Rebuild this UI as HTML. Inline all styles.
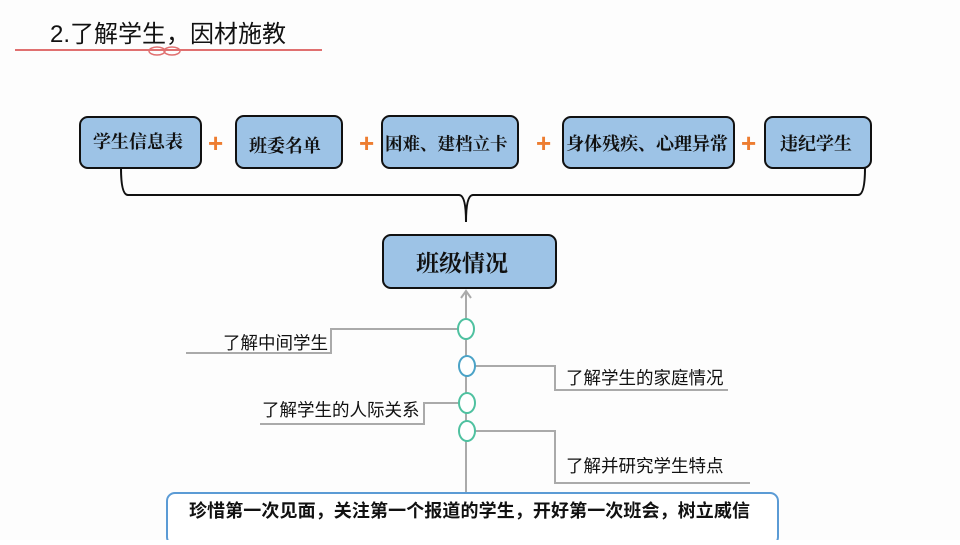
<!DOCTYPE html>
<html><head><meta charset="utf-8"><style>
body{margin:0;width:960px;height:540px;overflow:hidden;background:#fff;}
svg text{font-family:"Liberation Serif","Noto Serif CJK SC","Noto Sans CJK SC",serif;}
svg text.a{font-family:"Liberation Sans","Noto Sans CJK SC",sans-serif;}
</style></head><body>
<svg width="960" height="540" viewBox="0 0 960 540">
<rect width="960" height="540" fill="#fdfdfd"/>
<text class="a" x="50" y="42" font-size="24" fill="#111">2.了解学生，因材施教</text>
<line x1="15" y1="50" x2="322" y2="50" stroke="#e07070" stroke-width="2"/>
<g fill="none" stroke="#e07070" stroke-width="1.5"><ellipse cx="157" cy="51" rx="8" ry="4"/><ellipse cx="172" cy="51" rx="8" ry="4"/></g>
<g stroke="#111" stroke-width="2" fill="#9dc3e6">
<rect x="80" y="117" width="121" height="51" rx="8"/>
<rect x="236" y="116" width="106" height="52" rx="8"/>
<rect x="382" y="116" width="136" height="52" rx="8"/>
<rect x="563" y="117" width="171" height="51" rx="8"/>
<rect x="765" y="117" width="106" height="51" rx="8"/>
<rect x="383" y="235" width="173" height="53" rx="8"/>
</g>
<g font-size="18" fill="#111" font-weight="bold">
<text x="93" y="148">学生信息表</text>
<text x="249" y="152">班委名单</text>
<text x="385" y="150" font-size="17.5">困难、建档立卡</text>
<text x="566" y="150">身体残疾、心理异常</text>
<text x="780" y="150">违纪学生</text>
<text x="416" y="271" font-size="23">班级情况</text>
</g>
<g fill="#ed7d31" font-size="26" font-weight="bold">
<text class="a" x="208" y="152">+</text><text class="a" x="359" y="152">+</text><text class="a" x="536" y="152">+</text><text class="a" x="741" y="152">+</text>
</g>
<path d="M121 168 Q121 195 128 195 L459 195 Q466 195 466 222 Q466 195 473 195 L858 195 Q865 195 865 168" fill="none" stroke="#111" stroke-width="2"/>
<g stroke="#aaa" stroke-width="2" fill="none">
<line x1="466" y1="292" x2="466" y2="495"/>
<path d="M461 298 L466 291 L471 298"/>
<path d="M458 329 L331 329 L331 353 L186 353"/>
<path d="M475 366 L555 366 L555 390 L728 390"/>
<path d="M459 403 L424 403 L424 424 L260 424"/>
<path d="M475 431 L555 431 L555 483 L750 483"/>
</g>
<g fill="#fff" stroke-width="2">
<ellipse cx="466" cy="329" rx="8" ry="10" stroke="#4fc1a0"/>
<ellipse cx="467" cy="366" rx="8" ry="10" stroke="#4ba3c7"/>
<ellipse cx="467" cy="403" rx="8" ry="10" stroke="#4fc1a0"/>
<ellipse cx="467" cy="431" rx="8" ry="10" stroke="#4fc1a0"/>
</g>
<g font-size="17.5" fill="#111">
<text class="a" x="223" y="349">了解中间学生</text>
<text class="a" x="566" y="384">了解学生的家庭情况</text>
<text class="a" x="262" y="416">了解学生的人际关系</text>
<text class="a" x="566" y="472">了解并研究学生特点</text>
</g>
<rect x="167" y="493" width="611" height="52" rx="8" fill="#fff" stroke="#5b9bd5" stroke-width="2"/>
<text class="a" x="189" y="517" font-size="18" font-weight="bold" fill="#111" textLength="561">珍惜第一次见面，关注第一个报道的学生，开好第一次班会，树立威信</text>
</svg>
</body></html>
